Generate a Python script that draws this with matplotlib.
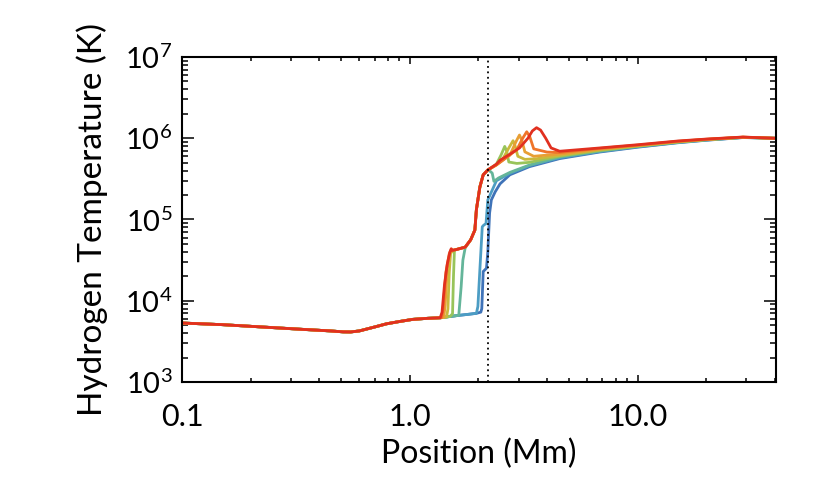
import numpy as np
import matplotlib
matplotlib.use("Agg")
import matplotlib.pyplot as plt
from matplotlib.ticker import LogLocator, NullFormatter

plt.rcParams['font.family'] = ['Lato', 'DejaVu Sans']
plt.rcParams['mathtext.fontset'] = 'custom'
plt.rcParams['mathtext.rm'] = 'Lato'
plt.rcParams['mathtext.it'] = 'Lato:italic'

# position in Mm, temperature in K
base_pos = [0.1, 0.15, 0.226, 0.35, 0.45, 0.51, 0.55, 0.6, 0.7, 0.79, 0.9, 1.03, 1.2, 1.36]
base_temp = [5320, 5080, 4750, 4420, 4250, 4140, 4130, 4250, 4750, 5200, 5550, 5900, 6080, 6170]

plateau_pos = [1.6, 1.75, 1.85, 1.93, 1.96, 2.03, 2.10, 2.2]
plateau_temp = [42700, 45700, 56200, 74100, 132000, 251000, 355000, 407000]

pos_c0 = [1.5, 1.64, 1.8, 1.96, 2.05, 2.07, 2.10, 2.17, 2.20, 2.24, 2.28, 2.37, 2.49, 2.75,
          3.35, 4.55, 6.8, 10, 15, 20, 29, 40]
temp_c0 = [6400, 6610, 6800, 7000, 7240, 8000, 22900, 25100, 39800, 120000, 174000, 219000, 275000, 355000,
           447000, 562000, 676000, 776000, 880000, 945000, 1020000, 1000000]

pos_c1 = [1.5, 1.64, 1.8, 1.96, 1.99, 2.03, 2.08, 2.11, 2.16, 2.20, 2.40, 2.75,
          3.35, 4.55, 6.8, 10, 15, 20, 29, 40]
temp_c1 = [6400, 6610, 6800, 7000, 8510, 24000, 81300, 85100, 89100, 174000, 300000, 370000,
           460000, 575000, 686000, 785000, 886000, 950000, 1022000, 1000000]

pos_c2_front = [1.5, 1.64, 1.68, 1.71, 1.75]
temp_c2_front = [6400, 6610, 14800, 31600, 44700]
pos_c2_tail = [2.26, 2.3, 2.34, 2.45, 2.75, 3.35, 4.55, 6.8, 10, 15, 20, 29, 40]
temp_c2_tail = [389000, 372000, 295000, 324000, 380000, 468000, 589000, 695000, 793000, 892000, 955000, 1024000, 1000000]

pos_c3_front = [1.5, 1.54, 1.555, 1.57]
temp_c3_front = [6400, 6920, 20000, 41700]
pos_c3_tail = [2.4, 2.52, 2.61, 2.66, 2.72, 2.95, 3.35, 4.55, 6.8, 10, 15, 20, 29, 40]
temp_c3_tail = [480000, 630000, 794000, 700000, 510000, 490000, 505000, 603000, 708000, 800000, 898000, 960000, 1026000, 1000000]

pos_c4_front = [1.45, 1.47, 1.49, 1.51, 1.54]
temp_c4_front = [6310, 7940, 22400, 38000, 41700]
pos_c4_tail = [2.4, 2.55, 2.72, 2.84, 2.9, 2.98, 3.2, 3.6, 4.55, 6.8, 10, 15, 20, 29, 40]
temp_c4_tail = [470000, 545000, 760000, 933000, 800000, 600000, 550000, 560000, 617000, 720000, 808000, 904000, 965000, 1028000, 1000000]

pos_c5_front = [1.41, 1.43, 1.46, 1.50, 1.54]
temp_c5_front = [6250, 8910, 25100, 38000, 41700]
pos_c5_tail = [2.4, 2.75, 2.92, 3.03, 3.1, 3.2, 3.5, 4.55, 6.8, 10, 15, 20, 29, 40]
temp_c5_tail = [470000, 620000, 900000, 1096000, 950000, 680000, 600000, 640000, 735000, 815000, 910000, 968000, 1030000, 1000000]

pos_c6_front = [1.38, 1.40, 1.44, 1.49, 1.52, 1.54]
temp_c6_front = [6200, 7940, 22400, 38000, 42700, 41700]
pos_c6_tail = [2.4, 2.7, 2.95, 3.13, 3.26, 3.36, 3.5, 4.0, 4.55, 6.8, 10, 15, 20, 29, 40]
temp_c6_tail = [470000, 600000, 724000, 1000000, 1202000, 1050000, 740000, 676000, 668000, 750000, 823000, 917000, 972000, 1032000, 1000000]

pos_c7_front = [1.385, 1.42, 1.46, 1.50, 1.52, 1.54]
temp_c7_front = [7240, 15800, 28200, 39800, 43700, 41700]
pos_c7_tail = [2.4, 2.49, 2.7, 3.03, 3.3, 3.45, 3.6, 3.75, 3.95, 4.17, 4.55, 6.8, 10, 15, 20, 29, 40]
temp_c7_tail = [480000, 537000, 617000, 759000, 1000000, 1230000, 1349000, 1260000, 1000000, 760000, 692000, 759000, 832000, 925000, 977000, 1035000, 1000000]

curves = [
    (base_pos + pos_c0, base_temp + temp_c0),
    (base_pos + pos_c1, base_temp + temp_c1),
    (base_pos + pos_c2_front + plateau_pos[2:] + pos_c2_tail,
     base_temp + temp_c2_front + plateau_temp[2:] + temp_c2_tail),
    (base_pos + pos_c3_front + plateau_pos + pos_c3_tail,
     base_temp + temp_c3_front + plateau_temp + temp_c3_tail),
    (base_pos + pos_c4_front + plateau_pos + pos_c4_tail,
     base_temp + temp_c4_front + plateau_temp + temp_c4_tail),
    (base_pos + pos_c5_front + plateau_pos + pos_c5_tail,
     base_temp + temp_c5_front + plateau_temp + temp_c5_tail),
    (base_pos + pos_c6_front + plateau_pos + pos_c6_tail,
     base_temp + temp_c6_front + plateau_temp + temp_c6_tail),
    (base_pos + pos_c7_front + plateau_pos + pos_c7_tail,
     base_temp + temp_c7_front + plateau_temp + temp_c7_tail),
]
colors = ['#3f73b8', '#4c9dc4', '#64b59a', '#98c45a', '#c9b93c', '#e89f34', '#ef7429', '#e1301f']

front_marker = 2.2

fig = plt.figure(figsize=(8.3, 4.98), dpi=100)
ax = fig.add_axes([182 / 830, 116 / 498, 594 / 830, 325 / 498])

for (xs, ts), c in zip(curves, colors):
    ax.plot(xs, ts, color=c, lw=2.0, solid_joinstyle='round')

ax.axvline(front_marker, color='black', ls=(0, (1, 2)), lw=1.3)

ax.set_xscale('log')
ax.set_yscale('log')
ax.set_xlim(0.1, 40.5)
ax.set_ylim(1e3, 1e7)

ax.set_xticks([0.1, 1, 10])
ax.set_xticklabels(['0.1', '1.0', '10.0'])
ax.set_yticks([1e3, 1e4, 1e5, 1e6, 1e7])
ax.set_yticklabels([r'$\mathregular{10^{%d}}$' % n for n in range(3, 8)])
ax.xaxis.set_minor_locator(LogLocator(base=10, subs=np.arange(2, 10), numticks=20))
ax.yaxis.set_minor_locator(LogLocator(base=10, subs=np.arange(2, 10), numticks=20))
ax.xaxis.set_minor_formatter(NullFormatter())
ax.yaxis.set_minor_formatter(NullFormatter())

ax.tick_params(axis='both', which='both', direction='in', top=True, right=True, width=1.1)
ax.tick_params(axis='x', which='major', length=5, pad=15, labelsize=22)
ax.tick_params(axis='x', which='minor', length=2.6)
ax.tick_params(axis='y', which='major', length=8.5, pad=7, labelsize=21)
ax.tick_params(axis='y', which='minor', length=4.3)
for s in ax.spines.values():
    s.set_linewidth(1.5)

ax.set_xlabel('Position (Mm)', fontsize=23, labelpad=6)
ax.set_ylabel('Hydrogen Temperature (K)', fontsize=24, labelpad=12)

fig.savefig('out.png', dpi=100)
